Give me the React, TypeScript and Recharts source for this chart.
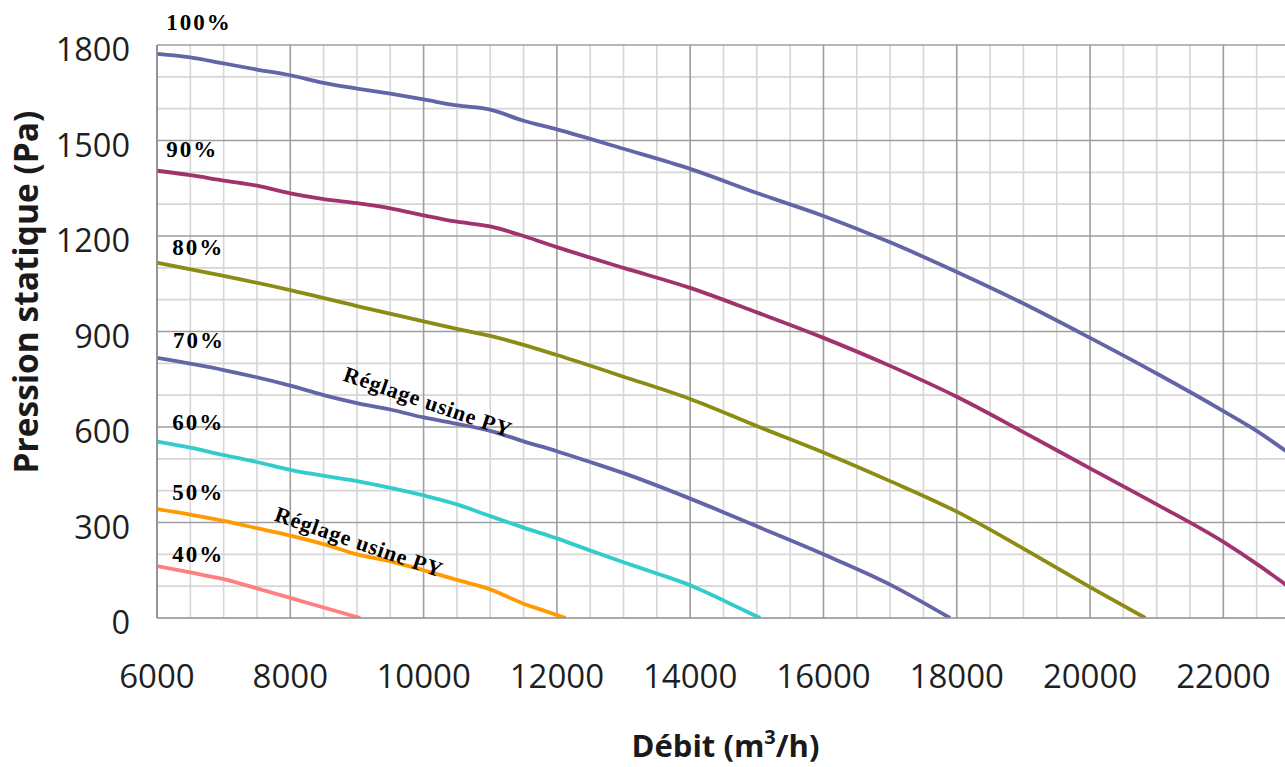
import React from 'react';
import { LineChart, Line, XAxis, YAxis, ReferenceLine, ReferenceDot } from 'recharts';

// Débit (m3/h) and static pressure (Pa) for each fan speed setting
const q100 = [6000, 6500, 7000, 7500, 8000, 8500, 9000, 9500, 10000, 10500, 11000, 11500, 12000, 13000, 14000, 15000, 16000, 17000, 18000, 19000, 20000, 21000, 22000, 22500, 23000];
const p100 = [1772, 1761, 1742, 1723, 1705, 1681, 1663, 1647, 1629, 1610, 1597, 1562, 1535, 1474, 1411, 1335, 1263, 1180, 1087, 988, 880, 768, 650, 588, 515];

const q90 = [6000, 6500, 7000, 7500, 8000, 8500, 9000, 9500, 10000, 10500, 11000, 11500, 12000, 13000, 14000, 15000, 16000, 17000, 18000, 19000, 20000, 21000, 22000, 22500, 23000];
const p90 = [1405, 1391, 1374, 1358, 1334, 1316, 1303, 1287, 1265, 1245, 1230, 1200, 1165, 1100, 1037, 960, 880, 792, 695, 584, 470, 357, 239, 170, 95];

const q80 = [6000, 7000, 8000, 9000, 10000, 10500, 11000, 11500, 12000, 13000, 14000, 15000, 16000, 17000, 18000, 19000, 20000, 20830];
const p80 = [1116, 1075, 1030, 980, 932, 908, 886, 858, 826, 758, 688, 603, 520, 430, 334, 218, 97, 0];

const q70 = [6000, 7000, 8000, 8500, 9000, 9500, 10000, 10500, 11000, 11500, 12000, 12500, 13000, 14000, 15000, 16000, 17000, 17900];
const p70 = [817, 779, 730, 700, 675, 655, 630, 610, 588, 555, 524, 490, 455, 375, 288, 200, 105, 0];

const q60 = [6000, 6500, 7000, 7500, 8000, 9000, 10000, 10500, 11000, 11500, 12000, 12500, 13000, 13500, 14000, 14500, 15050];
const p60 = [554, 535, 512, 490, 465, 430, 385, 357, 320, 284, 250, 212, 175, 140, 103, 55, 0];

const q50 = [6000, 6500, 7000, 7500, 8000, 8500, 9000, 9500, 10000, 10500, 11000, 11500, 11750, 12130];
const p50 = [342, 325, 305, 282, 259, 232, 200, 178, 150, 120, 90, 45, 27, 0];

const q40 = [6000, 6500, 7000, 7500, 8000, 8500, 9050];
const p40 = [163, 143, 122, 93, 63, 33, 0];

const xTicks = [6000, 8000, 10000, 12000, 14000, 16000, 18000, 20000, 22000];
const yTicks = [0, 300, 600, 900, 1200, 1500, 1800];
const xMinorGrid = [6500, 7000, 7500, 8500, 9000, 9500, 10500, 11000, 11500, 12500, 13000, 13500, 14500, 15000, 15500, 16500, 17000, 17500, 18500, 19000, 19500, 20500, 21000, 21500, 22500];
const xMajorGrid = [6000, 8000, 10000, 12000, 14000, 16000, 18000, 20000, 22000];
const yMinorGrid = [100, 200, 400, 500, 700, 800, 1000, 1100, 1300, 1400, 1600, 1700];
const yMajorGrid = [300, 600, 900, 1200, 1500, 1800];

const speedLabels = ['100%', '90%', '80%', '70%', '60%', '50%', '40%'];
const speedLabelQ = [6140, 6140, 6230, 6240, 6230, 6230, 6230];
const speedLabelP = [1847, 1448, 1140, 848, 591, 371, 176];

const factoryText = 'Réglage usine PY';
const factoryQ = [10067, 9032];
const factoryP = [679, 239];

const series = [
  { name: '100%', q: q100, p: p100, color: '#6464A8' },
  { name: '90%', q: q90, p: p90, color: '#A0336E' },
  { name: '80%', q: q80, p: p80, color: '#8C8C14' },
  { name: '70%', q: q70, p: p70, color: '#6464A8' },
  { name: '60%', q: q60, p: p60, color: '#33CCCC' },
  { name: '50%', q: q50, p: p50, color: '#FF9A00' },
  { name: '40%', q: q40, p: p40, color: '#FF7F80' },
];

const toData = (q: number[], p: number[]) => q.map((v, i) => ({ q: v, p: p[i] }));

const SANS = '"Open Sans", "Noto Sans", sans-serif';
const SERIF = '"Liberation Serif", "DejaVu Serif", serif';

const XTick = (props: any) => (
  <text x={props.x} y={props.y + 70} textAnchor="middle" fontFamily={SANS} fontSize={33} fill="#1f1f1f">
    {props.payload.value}
  </text>
);

const YTick = (props: any) => (
  <text x={props.x - 27} y={props.y + 16} textAnchor="end" fontFamily={SANS} fontSize={32.5} fill="#1f1f1f">
    {props.payload.value}
  </text>
);

const YTitle = (props: any) => {
  const vb = props.viewBox;
  const cx = vb.x + 25;
  const cy = vb.y + 247;
  return (
    <text x={cx} y={cy} transform={`rotate(-90, ${cx}, ${cy})`} textAnchor="middle" dominantBaseline="central"
      fontFamily={SANS} fontWeight="bold" fontSize={33.5} fill="#1a1a1a">
      Pression statique (Pa)
    </text>
  );
};

const XTitle = (props: any) => {
  const vb = props.viewBox;
  const cx = vb.x + vb.width / 2 + 2;
  const by = vb.y + 139;
  return (
    <text x={cx} y={by} textAnchor="middle" fontFamily={SANS} fontWeight="bold" fontSize={31} fill="#1a1a1a">
      Débit (m<tspan dy={-13} fontSize={20}>3</tspan><tspan dy={13}>/h)</tspan>
    </text>
  );
};

const speedLabelContent = (text: string) => (props: any) => {
  const vb = props.viewBox;
  return (
    <text x={vb.x} y={vb.y} fontFamily={SERIF} fontWeight="bold" fontSize={23} letterSpacing={2} fill="#000">
      {text}
    </text>
  );
};

const factoryLabelContent = (props: any) => {
  const vb = props.viewBox;
  return (
    <text x={vb.x} y={vb.y} transform={`rotate(19, ${vb.x}, ${vb.y})`} textAnchor="middle" dominantBaseline="central"
      fontFamily={SERIF} fontWeight="bold" fontSize={22} letterSpacing={0.8} fill="#000">
      {factoryText}
    </text>
  );
};

export default function App() {
  return (
    <div style={{ position: 'absolute', left: 0, top: 0, width: 1285, height: 767, overflow: 'hidden', background: '#fff' }}>
      <LineChart width={1300} height={767} margin={{ top: 45, right: 10, bottom: 0, left: 0 }}>
        <XAxis
          dataKey="q"
          type="number"
          domain={[6000, 23000]}
          allowDataOverflow
          ticks={xTicks}
          tick={XTick}
          tickLine={false}
          tickSize={0}
          tickMargin={0}
          height={149}
          axisLine={{ stroke: '#8c8c8c', strokeWidth: 1.5 }}
          label={{ content: XTitle }}
        />
        <YAxis
          dataKey="p"
          type="number"
          domain={[0, 1800]}
          allowDataOverflow
          ticks={yTicks}
          tick={YTick}
          tickLine={false}
          tickSize={0}
          tickMargin={0}
          width={157}
          axisLine={{ stroke: '#8c8c8c', strokeWidth: 1.5 }}
          label={{ content: YTitle }}
        />
        {xMinorGrid.map((v) => (
          <ReferenceLine key={`xm${v}`} x={v} stroke="#d6d6d6" strokeWidth={1.6} />
        ))}
        {yMinorGrid.map((v) => (
          <ReferenceLine key={`ym${v}`} y={v} stroke="#d6d6d6" strokeWidth={1.6} />
        ))}
        {xMajorGrid.map((v) => (
          <ReferenceLine key={`xM${v}`} x={v} stroke="#9e9e9e" strokeWidth={1.6} />
        ))}
        {yMajorGrid.map((v) => (
          <ReferenceLine key={`yM${v}`} y={v} stroke="#9e9e9e" strokeWidth={1.6} />
        ))}
        {series.map((s) => (
          <Line
            key={s.name}
            data={toData(s.q, s.p)}
            dataKey="p"
            type="monotone"
            stroke={s.color}
            strokeWidth={3.8}
            dot={false}
            activeDot={false}
            isAnimationActive={false}
          />
        ))}
        {speedLabels.map((t, i) => (
          <ReferenceDot key={t} x={speedLabelQ[i]} y={speedLabelP[i]} r={0} fill="none" stroke="none"
            ifOverflow="visible" label={{ content: speedLabelContent(t) }} />
        ))}
        {factoryQ.map((q, i) => (
          <ReferenceDot key={`f${i}`} x={q} y={factoryP[i]} r={0} fill="none" stroke="none"
            ifOverflow="visible" label={{ content: factoryLabelContent }} />
        ))}
      </LineChart>
    </div>
  );
}
